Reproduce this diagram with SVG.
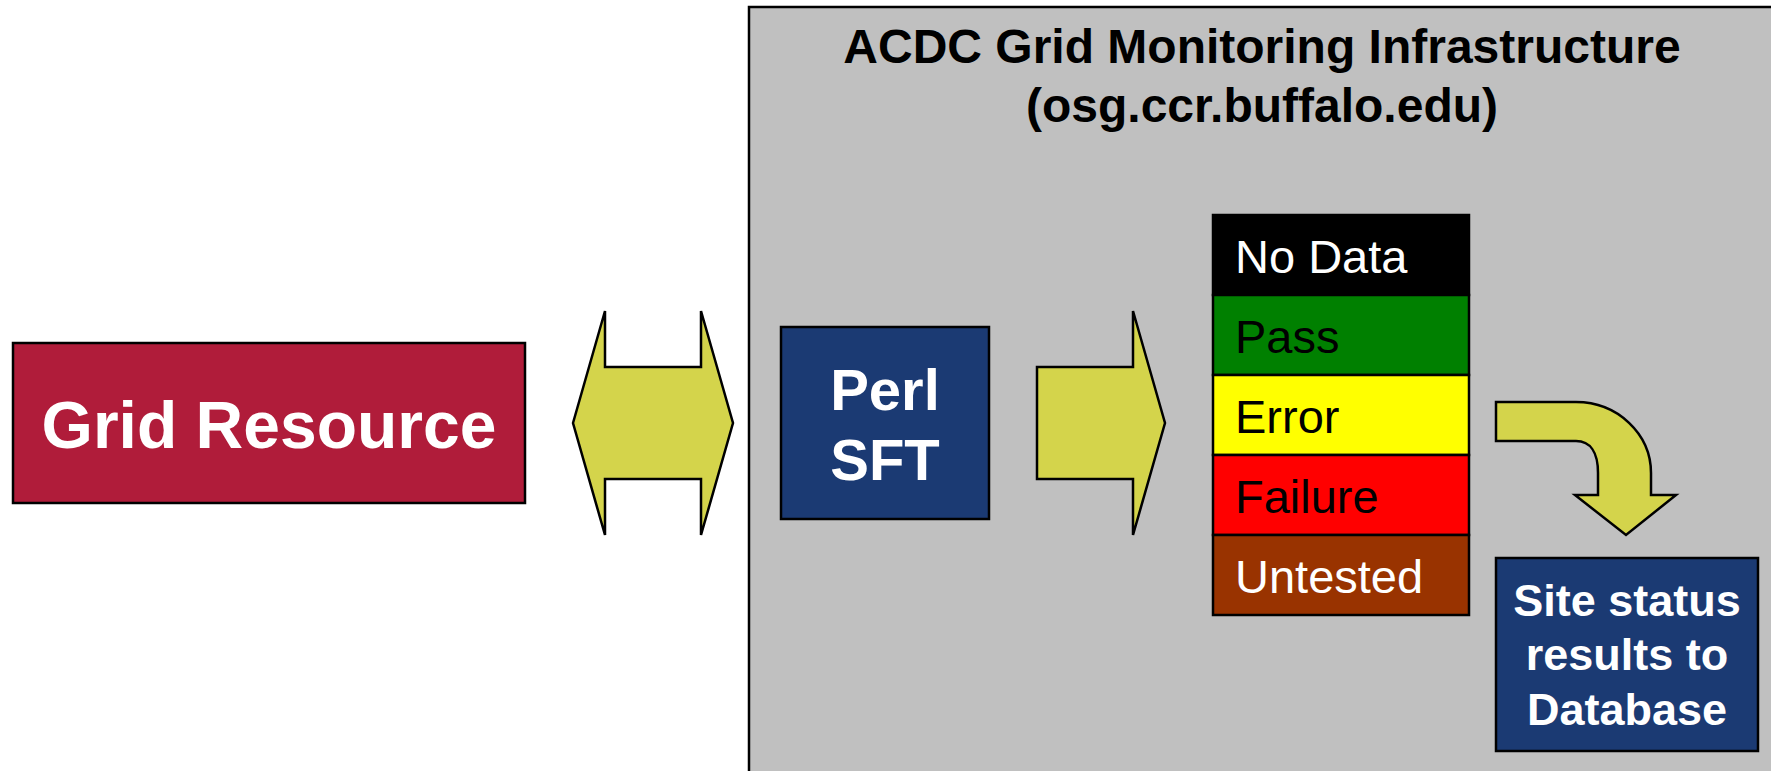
<svg xmlns="http://www.w3.org/2000/svg" width="1771" height="771" viewBox="0 0 1771 771">
<style>
.b{font-family:"Liberation Sans",Arial,sans-serif;font-weight:bold}
.r{font-family:"Liberation Sans",Arial,sans-serif}
.arr{fill:#D4D44B;stroke:#000;stroke-width:2.5;stroke-linejoin:miter}
.box{stroke:#000;stroke-width:2.5}
</style>
<rect width="1771" height="771" fill="#fff"/>
<g id="acdc">
<rect x="749" y="7" width="1040" height="780" fill="#C0C0C0" stroke="#000" stroke-width="2.5"/>
<text class="b" x="1262" y="63" font-size="48" text-anchor="middle">ACDC Grid Monitoring Infrastructure</text>
<text class="b" x="1262" y="122" font-size="48" text-anchor="middle">(osg.ccr.buffalo.edu)</text>
</g>
<g id="grid-resource">
<rect class="box" x="13" y="343" width="512" height="160" fill="#B01C3A"/>
<text class="b" x="269" y="448" font-size="66" fill="#fff" text-anchor="middle">Grid Resource</text>
</g>
<g id="perl-sft">
<rect class="box" x="781" y="327" width="208" height="192" fill="#1B3A73"/>
<text class="b" x="885" y="410" font-size="58" fill="#fff" text-anchor="middle">Perl</text>
<text class="b" x="885" y="480" font-size="58" fill="#fff" text-anchor="middle">SFT</text>
</g>
<g id="status">
<rect class="box" x="1213" y="215" width="256" height="80" fill="#000"/>
<rect class="box" x="1213" y="295" width="256" height="80" fill="#008000"/>
<rect class="box" x="1213" y="375" width="256" height="80" fill="#FFFF00"/>
<rect class="box" x="1213" y="455" width="256" height="80" fill="#FF0000"/>
<rect class="box" x="1213" y="535" width="256" height="80" fill="#993300"/>
<text class="r" x="1235" y="273" font-size="47" fill="#fff">No Data</text>
<text class="r" x="1235" y="353" font-size="47" fill="#000">Pass</text>
<text class="r" x="1235" y="433" font-size="47" fill="#000">Error</text>
<text class="r" x="1235" y="513" font-size="47" fill="#000">Failure</text>
<text class="r" x="1235" y="593" font-size="47" fill="#fff">Untested</text>
</g>
<g id="site-status">
<rect class="box" x="1496" y="558" width="262" height="193" fill="#1B3A73"/>
<text class="b" x="1627" y="616" font-size="45" fill="#fff" text-anchor="middle">Site status</text>
<text class="b" x="1627" y="670" font-size="45" fill="#fff" text-anchor="middle">results to</text>
<text class="b" x="1627" y="725" font-size="45" fill="#fff" text-anchor="middle">Database</text>
</g>
<g id="connectors">
<path class="arr" d="M573,423 L605,311 L605,367 L701,367 L701,311 L733,423 L701,535 L701,479 L605,479 L605,535 Z"/>
<path class="arr" d="M1037,367 L1133,367 L1133,311 L1165,423 L1133,535 L1133,479 L1037,479 Z"/>
<path class="arr" d="M1496,402 L1576,402 A75,71 0 0 1 1651,473 L1651,495 L1676,495 L1626,535 L1575,495 L1598,495 L1598,473 C1598,452 1590,441 1576,441 L1496,441 Z"/>
</g>
</svg>
